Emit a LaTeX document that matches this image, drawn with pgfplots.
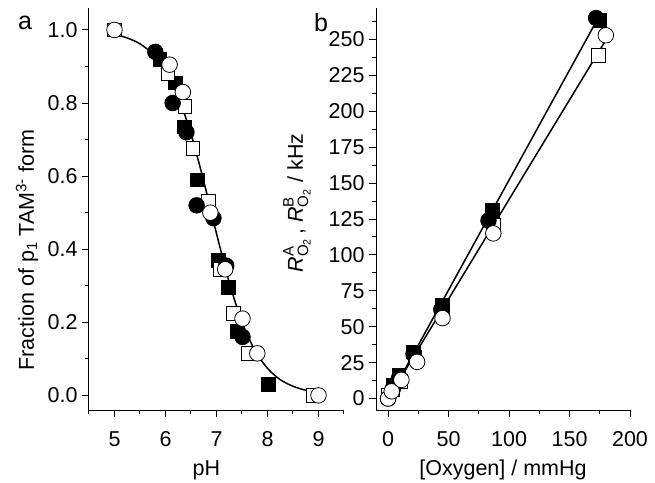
\documentclass[border=0pt]{standalone}
\usepackage{fontspec}
\setmainfont{Liberation Sans}
\usepackage{amsmath}
\usepackage{pgfplots}
\pgfplotsset{compat=1.18}
\newcommand{\fs}{\fontsize{21.5bp}{25bp}\selectfont}
\pgfplotsset{
  myax/.style={
    scale only axis, height=402bp,
    axis x line=bottom, axis y line=left,
    axis line style={-, line width=1bp},
    every outer x axis line/.append style={-},
    every outer y axis line/.append style={-},
    tick align=outside, major tick length=7bp, minor tick length=4bp,
    every tick/.style={black, line width=1bp},
    tick label style={font=\fs},
    xticklabel style={yshift=-11bp},
    yticklabel style={xshift=-1bp},
    label style={font=\fs},
    /pgf/number format/assume math mode=true,
    clip=false,
  },
  fsq/.style={only marks, mark=square*, mark size=6.8bp, mark options={draw=black, fill=black, line width=0.8bp}},
  osq/.style={only marks, mark=square*, mark size=6.8bp, mark options={draw=black, fill=white, line width=0.8bp}},
  fci/.style={only marks, mark=*, mark size=7.8bp, mark options={draw=black, fill=black, line width=0.8bp}},
  oci/.style={only marks, mark=*, mark size=7.8bp, mark options={draw=black, fill=white, line width=0.8bp}},
}
\begin{document}
\begin{tikzpicture}[font=\fs]
\path[use as bounding box] (-89bp,-73bp) rectangle (566bp,410bp);
\begin{axis}[myax, width=255bp,
  xmin=4.5, xmax=9.5, ymin=-0.04, ymax=1.06,
  xtick={5,6,7,8,9}, minor xtick={4.5,5.5,6.5,7.5,8.5,9.5},
  ytick={0,0.2,0.4,0.6,0.8,1.0}, minor ytick={0.1,0.3,0.5,0.7,0.9},
  yticklabel style={/pgf/number format/fixed, /pgf/number format/precision=1, /pgf/number format/fixed zerofill},
  xlabel={pH},
  xlabel style={at={(axis description cs:0.46,-0.149)}, anchor=center},
  ylabel={Fraction of p\textsubscript{1} TAM\textsuperscript{3-} form},
  ylabel style={at={(axis description cs:-0.243,0.398)}, anchor=center, rotate=0},
]
\addplot[fsq] coordinates {(5,1.0) (5.89,0.92) (6.19,0.855) (6.37,0.735) (6.62,0.59) (7.04,0.37) (7.23,0.295) (7.41,0.175) (8.02,0.03)};
\addplot[osq] coordinates {(5,1.0) (6.05,0.88) (6.38,0.79) (6.54,0.675) (6.84,0.53) (7.08,0.345) (7.33,0.225) (7.63,0.115) (8.9,0.0)};
\addplot[fci] coordinates {(5.8,0.94) (6.14,0.80) (6.41,0.72) (6.61,0.52) (6.94,0.485) (7.19,0.355) (7.51,0.16)};
\addplot[oci] coordinates {(5,1.0) (6.08,0.905) (6.34,0.83) (6.88,0.50) (7.17,0.345) (7.51,0.21) (7.8,0.115) (9.0,0.0)};
\addplot[black, line width=1.5bp, smooth, no marks] coordinates {
 (5.0,0.988) (5.25,0.978) (5.5,0.962) (5.75,0.934) (6.0,0.888) (6.25,0.817)
 (6.5,0.715) (6.75,0.586) (7.0,0.443) (7.25,0.309) (7.5,0.201) (7.75,0.124)
 (8.0,0.074) (8.25,0.043) (8.5,0.025) (8.75,0.014) (9.0,0.008)};
\end{axis}
\begin{axis}[myax, width=254bp, at={(287bp,0bp)}, anchor=south west,
  xmin=-10, xmax=200, ymin=-8, ymax=272,
  xtick={0,50,100,150,200}, minor xtick={25,75,125,175},
  ytick={0,25,...,250}, minor ytick={12.5,37.5,...,262.5},
  xlabel={[Oxygen] / mmHg},
  xlabel style={at={(axis description cs:0.5,-0.149)}, anchor=center},
  ylabel={$\textit{R}^{\textrm{A}}_{\textrm{O}_{\textrm{2}}}$\,, $\textit{R}^{\textrm{B}}_{\textrm{O}_{\textrm{2}}}$ / kHz},
  ylabel style={at={(axis description cs:-0.311,0.515)}, anchor=center, rotate=0},
]
\addplot[fsq] coordinates {(0,1) (4,9) (9,16.5) (21,32.5) (45,65) (86,131) (175,263.5)};
\addplot[osq] coordinates {(0,2) (4,6) (10,12) (22,29) (45,60) (87,121) (174,239)};
\addplot[fci] coordinates {(0,0) (4,7) (9,14) (21,31) (44,62) (83,124) (172,265)};
\addplot[oci] coordinates {(0,0) (3,5) (11,13) (24,25.5) (45,56) (87,115) (180,253)};
\addplot[black, line width=1.5bp, no marks] coordinates {(0,-1) (173,264)};
\addplot[black, line width=1.5bp, no marks] coordinates {(0,0) (181,251)};
\end{axis}
\node[font=\fontsize{25bp}{28bp}\selectfont] at (-64bp,387bp) {a};
\node[font=\fontsize{25bp}{28bp}\selectfont] at (232bp,387bp) {b};
\end{tikzpicture}
\end{document}
